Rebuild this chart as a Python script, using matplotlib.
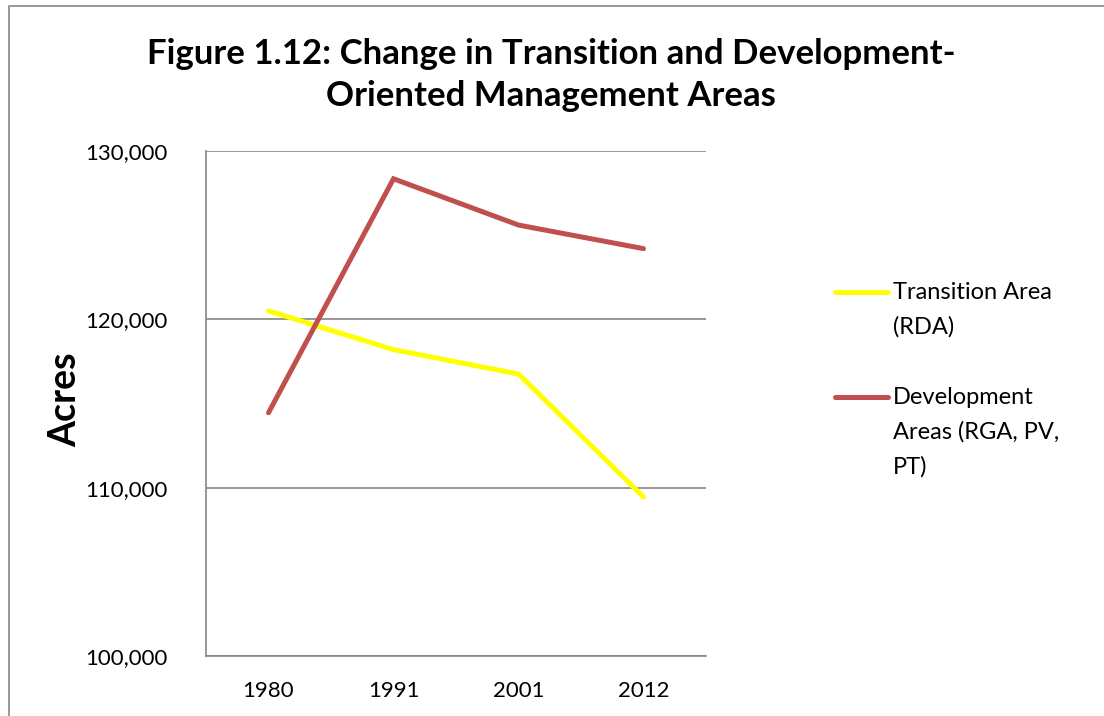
import matplotlib
matplotlib.use("Agg")
import matplotlib.pyplot as plt
from matplotlib.lines import Line2D
from matplotlib.patches import Rectangle
from matplotlib.ticker import FuncFormatter

years = ["1980", "1991", "2001", "2012"]
transition = [120500, 118200, 116750, 109450]
development = [114450, 128350, 125600, 124200]
labels = ["Transition Area\n(RDA)", "Development\nAreas (RGA, PV,\nPT)"]
colors = ["#FFFF00", "#C0504D"]

plt.rcParams['font.family'] = ['Lato', 'DejaVu Sans']

fig = plt.figure(figsize=(11.04, 7.16), dpi=100)
ax = fig.add_axes([0.1866, 0.0838, 0.4529, 0.7053])

x = range(len(years))
for series, c in zip([transition, development], colors):
    ax.plot(x, series, color=c, lw=3.6, solid_capstyle="round", solid_joinstyle="miter")

ax.set_xlim(-0.5, 3.5)
ax.set_ylim(100000, 130000)
ax.set_yticks([100000, 110000, 120000, 130000])
ax.yaxis.set_major_formatter(FuncFormatter(lambda v, p: f"{int(v):,}"))
ax.set_xticks(list(x))
ax.set_xticklabels(years)
ax.tick_params(length=0, labelsize=16)
ax.tick_params(axis="x", pad=18)
ax.tick_params(axis="y", pad=28)
ax.grid(axis="y", color="#868686", lw=1.2)
ax.set_axisbelow(True)
for s in ["top", "right"]:
    ax.spines[s].set_visible(False)
for s in ["left", "bottom"]:
    ax.spines[s].set_color("#868686")
    ax.spines[s].set_linewidth(1.2)

fig.text(65 / 1104, 1 - 400 / 716, "Acres", rotation=90, fontsize=27, fontweight="bold",
         ha="center", va="center")
fig.text(551 / 1104, 1 - 75 / 716, "Figure 1.12: Change in Transition and Development-\nOriented Management Areas",
         fontsize=25, fontweight="bold", ha="center", va="center", linespacing=1.42)

# legend drawn by hand so handles sit on the first text line
legend_y = [292, 397]
for lab, c, yy in zip(labels, colors, legend_y):
    fy = 1 - yy / 716
    fig.add_artist(Line2D([835 / 1104, 888 / 1104], [fy, fy], color=c, lw=3.6,
                          solid_capstyle="round", transform=fig.transFigure))
    fig.text(893 / 1104, fy + 10 / 716, lab, fontsize=17, va="top", ha="left", linespacing=1.75)

fig.add_artist(Rectangle((9 / 1104, -0.05), 1.2, 1.05 - 6 / 716, transform=fig.transFigure,
                         fill=False, edgecolor="#888888", lw=1.2))

fig.savefig("out.png", dpi=100)
